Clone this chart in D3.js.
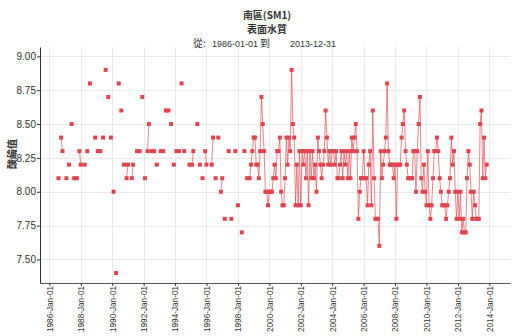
<!DOCTYPE html>
<html>
<head>
<meta charset="utf-8">
<script src="https://cdn.jsdelivr.net/npm/d3@7"></script>
<style>
  body { margin: 0; background: #fff; }
  svg text { font-family: "Liberation Sans", Arial, sans-serif; fill: #333; }
</style>
</head>
<body>
<svg id="chart" width="515" height="336"></svg>
<script>
// pH readings at station SM1, surface water
// Sparse sampling, 1986 – 1998
const earlyMonths = [
  "1986-08","1986-10","1986-11",
  "1987-02","1987-04","1987-06","1987-08","1987-10","1987-12",
  "1988-01","1988-04","1988-06","1988-08","1988-12",
  "1989-02","1989-04","1989-06","1989-08","1989-10","1989-12",
  "1990-02","1990-04","1990-06","1990-08","1990-10","1990-12",
  "1991-01","1991-04","1991-05","1991-08","1991-10","1991-12",
  "1992-02","1992-04","1992-05","1992-07","1992-09","1992-11",
  "1993-02","1993-04","1993-06","1993-08","1993-10","1993-12",
  "1994-02","1994-04","1994-06","1994-08","1994-12",
  "1995-02","1995-03","1995-06","1995-08","1995-10","1995-12",
  "1996-01","1996-05","1996-06","1996-08","1996-10","1996-12",
  "1997-01","1997-03","1997-06","1997-08","1997-11",
  "1998-01","1998-04","1998-06","1998-08","1998-10"
];
const earlyPH = [
  8.1, 8.4, 8.3,
  8.1, 8.2, 8.5, 8.1, 8.1, 8.3,
  8.2, 8.2, 8.3, 8.8, 8.4,
  8.3, 8.3, 8.4, 8.9, 8.7, 8.4,
  8.0, 7.4, 8.8, 8.6, 8.2, 8.1,
  8.2, 8.1, 8.2, 8.3, 8.3, 8.7,
  8.1, 8.3, 8.5, 8.3, 8.3, 8.2,
  8.3, 8.3, 8.6, 8.6, 8.5, 8.2,
  8.3, 8.3, 8.8, 8.3, 8.2,
  8.2, 8.3, 8.5, 8.2, 8.1, 8.3,
  8.2, 8.2, 8.4, 8.1, 8.4, 8.0,
  8.1, 7.8, 8.3, 7.8, 8.3,
  7.9, 7.7, 8.3, 8.1, 8.1
];

// Monthly sampling, Nov 1998 – Nov 2013
const monthlyMonths = [
  "1998-11","1998-12",
  "1999-01","1999-02","1999-03","1999-04","1999-05","1999-06","1999-07","1999-08","1999-09","1999-10","1999-11","1999-12",
  "2000-01","2000-02","2000-03","2000-04","2000-05","2000-06","2000-07","2000-08","2000-09","2000-10","2000-11","2000-12",
  "2001-01","2001-02","2001-03","2001-04","2001-05","2001-06","2001-07","2001-08","2001-09","2001-10","2001-11","2001-12",
  "2002-01","2002-02","2002-03","2002-04","2002-05","2002-06","2002-07","2002-08","2002-09","2002-10","2002-11","2002-12",
  "2003-01","2003-02","2003-03","2003-04","2003-05","2003-06","2003-07","2003-08","2003-09","2003-10","2003-11","2003-12",
  "2004-01","2004-02","2004-03","2004-04","2004-05","2004-06","2004-07","2004-08","2004-09","2004-10","2004-11","2004-12",
  "2005-01","2005-02","2005-03","2005-04","2005-05","2005-06","2005-07","2005-08","2005-09","2005-10","2005-11","2005-12",
  "2006-01","2006-02","2006-03","2006-04","2006-05","2006-06","2006-07","2006-08","2006-09","2006-10","2006-11","2006-12",
  "2007-01","2007-02","2007-03","2007-04","2007-05","2007-06","2007-07","2007-08","2007-09","2007-10","2007-11","2007-12",
  "2008-01","2008-02","2008-03","2008-04","2008-05","2008-06","2008-07","2008-08","2008-09","2008-10","2008-11","2008-12",
  "2009-01","2009-02","2009-03","2009-04","2009-05","2009-06","2009-07","2009-08","2009-09","2009-10","2009-11","2009-12",
  "2010-01","2010-02","2010-03","2010-04","2010-05","2010-06","2010-07","2010-08","2010-09","2010-10","2010-11","2010-12",
  "2011-01","2011-02","2011-03","2011-04","2011-05","2011-06","2011-07","2011-08","2011-09","2011-10","2011-11","2011-12",
  "2012-01","2012-02","2012-03","2012-04","2012-05","2012-06","2012-07","2012-08","2012-09","2012-10","2012-11","2012-12",
  "2013-01","2013-02","2013-03","2013-04","2013-05","2013-06","2013-07","2013-08","2013-09","2013-10","2013-11"
];
const monthlyPH = [
  8.2, 8.3,
  8.4, 8.4, 8.2, 8.2, 8.1, 8.3, 8.7, 8.5, 8.3, 8.0, 8.0, 7.9,
  8.0, 8.0, 8.0, 8.1, 8.2, 8.1, 8.3, 8.3, 8.4, 8.0, 7.9, 7.9,
  8.1, 8.4, 8.2, 8.4, 8.3, 8.9, 8.5, 8.4, 7.9, 8.2, 7.9, 8.3,
  7.9, 8.3, 8.2, 8.3, 8.1, 8.3, 7.9, 8.3, 8.1, 8.3, 8.1, 8.2,
  8.0, 8.4, 8.3, 8.2, 8.1, 8.2, 8.3, 8.6, 8.4, 8.2, 8.3, 8.2,
  8.3, 8.3, 8.2, 8.3, 8.1, 8.1, 8.2, 8.3, 8.1, 8.3, 8.2, 8.3,
  8.1, 8.3, 8.1, 8.4, 8.3, 8.4, 8.5, 8.3, 7.8, 8.0, 8.1, 8.1,
  8.3, 8.1, 8.1, 7.9, 8.2, 8.3, 7.9, 8.6, 8.1, 7.8, 7.8, 7.8,
  7.6, 8.3, 8.1, 8.2, 8.3, 8.4, 8.8, 8.3, 8.2, 8.2, 8.2, 8.1,
  8.2, 7.8, 8.2, 8.2, 8.2, 8.4, 8.5, 8.6, 8.3, 8.2, 8.1, 8.1,
  8.1, 8.1, 8.3, 8.3, 8.0, 8.3, 8.5, 8.7, 8.1, 8.0, 8.2, 8.0,
  7.9, 8.3, 7.9, 7.8, 7.9, 8.1, 8.3, 8.3, 8.4, 8.3, 8.1, 8.0,
  7.9, 7.9, 7.9, 7.8, 7.9, 8.0, 8.1, 8.4, 8.2, 8.3, 8.0, 7.8,
  8.0, 7.8, 8.0, 7.7, 7.8, 7.7, 7.7, 8.1, 8.3, 8.2, 8.0, 7.8,
  8.0, 7.9, 7.8, 7.8, 7.8, 8.5, 8.6, 8.1, 8.4, 8.1, 8.2
];

const yTickValues = [7.5, 7.75, 8.0, 8.25, 8.5, 8.75, 9.0];
const xTickYears = [1986, 1988, 1990, 1992, 1994, 1996, 1998, 2000, 2002, 2004, 2006, 2008, 2010, 2012, 2014];
const titleLines = ["南區(SM1)", "表面水質"];
const periodStart = "1986-01-01";
const periodEnd = "2013-12-31";
const yAxisTitle = "酸鹼值";

const svg = d3.select("#chart");
const plot = { left: 40, right: 510, top: 47, bottom: 283 };
const markColor = "#e2444f";
const cjkFont = "'Noto Sans CJK TC', 'Noto Sans CJK SC', sans-serif";
const latinFont = "'Liberation Sans', Arial, sans-serif";

const parseMonth = d3.timeParse("%Y-%m");
const allMonths = earlyMonths.concat(monthlyMonths);
const allPH = earlyPH.concat(monthlyPH);
const points = allMonths.map((m, i) => {
  const d = parseMonth(m);
  return { date: d, ph: allPH[i], k: d.getFullYear() * 12 + d.getMonth() };
});

const x = d3.scaleTime()
  .domain([new Date(1985, 4, 28), new Date(2015, 3, 26)])
  .range([plot.left, plot.right]);
const y = d3.scaleLinear()
  .domain([7.326, 9.069])
  .range([plot.bottom, plot.top]);

const xTickDates = xTickYears.map(yr => new Date(yr, 0, 1));

// grid
const grid = svg.append("g").attr("stroke", "#e9e9e9").attr("stroke-width", 1);
grid.selectAll("line.v").data(xTickDates).join("line")
  .attr("x1", d => Math.round(x(d)) + 0.5).attr("x2", d => Math.round(x(d)) + 0.5)
  .attr("y1", plot.top).attr("y2", plot.bottom);
grid.selectAll("line.h").data(yTickValues).join("line")
  .attr("y1", d => Math.round(y(d)) + 0.5).attr("y2", d => Math.round(y(d)) + 0.5)
  .attr("x1", plot.left).attr("x2", plot.right);

// connect only consecutive months
const segments = [];
points.forEach((p, i) => {
  if (i === 0 || p.k - points[i - 1].k !== 1) segments.push([p]);
  else segments[segments.length - 1].push(p);
});
const line = d3.line().x(d => x(d.date)).y(d => y(d.ph));
svg.append("g").selectAll("path").data(segments.filter(s => s.length > 1)).join("path")
  .attr("d", line)
  .attr("fill", "none")
  .attr("stroke", markColor)
  .attr("stroke-opacity", 0.65)
  .attr("stroke-width", 1);

const sq = 4;
svg.append("g").selectAll("rect").data(points).join("rect")
  .attr("x", d => x(d.date) - sq / 2)
  .attr("y", d => y(d.ph) - sq / 2)
  .attr("width", sq).attr("height", sq)
  .attr("fill", markColor);

// axes
const yAxis = svg.append("g")
  .attr("transform", `translate(${plot.left},0)`)
  .call(d3.axisLeft(y).tickValues(yTickValues).tickFormat(d3.format(".2f")).tickSize(3).tickSizeOuter(0));
yAxis.select(".domain").attr("stroke", "#333");
yAxis.selectAll(".tick line").attr("stroke", "#333");
yAxis.selectAll(".tick text").attr("font-size", 10).attr("x", -4)
  .style("font-family", latinFont).attr("fill", "#333");

const xAxis = svg.append("g")
  .attr("transform", `translate(0,${plot.bottom})`)
  .call(d3.axisBottom(x).tickValues(xTickDates).tickFormat(d3.timeFormat("%Y-%b-%d")).tickSize(3).tickSizeOuter(0));
xAxis.select(".domain").attr("stroke", "#555");
xAxis.selectAll(".tick line").attr("stroke", "#333");
xAxis.selectAll(".tick text")
  .attr("font-size", 8.2)
  .style("font-family", latinFont)
  .attr("fill", "#333")
  .attr("text-anchor", "end")
  .attr("transform", "rotate(-90)")
  .attr("x", -3).attr("y", 0).attr("dy", "0.35em");

// titles
titleLines.forEach((t, i) => {
  svg.append("text")
    .attr("x", 267).attr("y", 19 + i * 14).attr("text-anchor", "middle")
    .attr("font-size", 10).attr("font-weight", "bold").attr("fill", "#222")
    .style("font-family", cjkFont)
    .text(t);
});
const period = svg.append("text").attr("y", 47).attr("fill", "#333");
period.append("tspan").attr("x", 193).attr("font-size", 10).style("font-family", cjkFont).text("從:");
period.append("tspan").attr("x", 212).attr("font-size", 9).style("font-family", latinFont).text(periodStart);
period.append("tspan").attr("x", 260).attr("font-size", 10).style("font-family", cjkFont).text("到");
period.append("tspan").attr("x", 290).attr("font-size", 9).style("font-family", latinFont).text(periodEnd);

svg.append("text")
  .attr("transform", `translate(16,154) rotate(-90)`)
  .attr("text-anchor", "middle").attr("font-size", 10).attr("font-weight", "bold").attr("fill", "#333")
  .style("font-family", cjkFont)
  .text(yAxisTitle);
</script>
</body>
</html>
